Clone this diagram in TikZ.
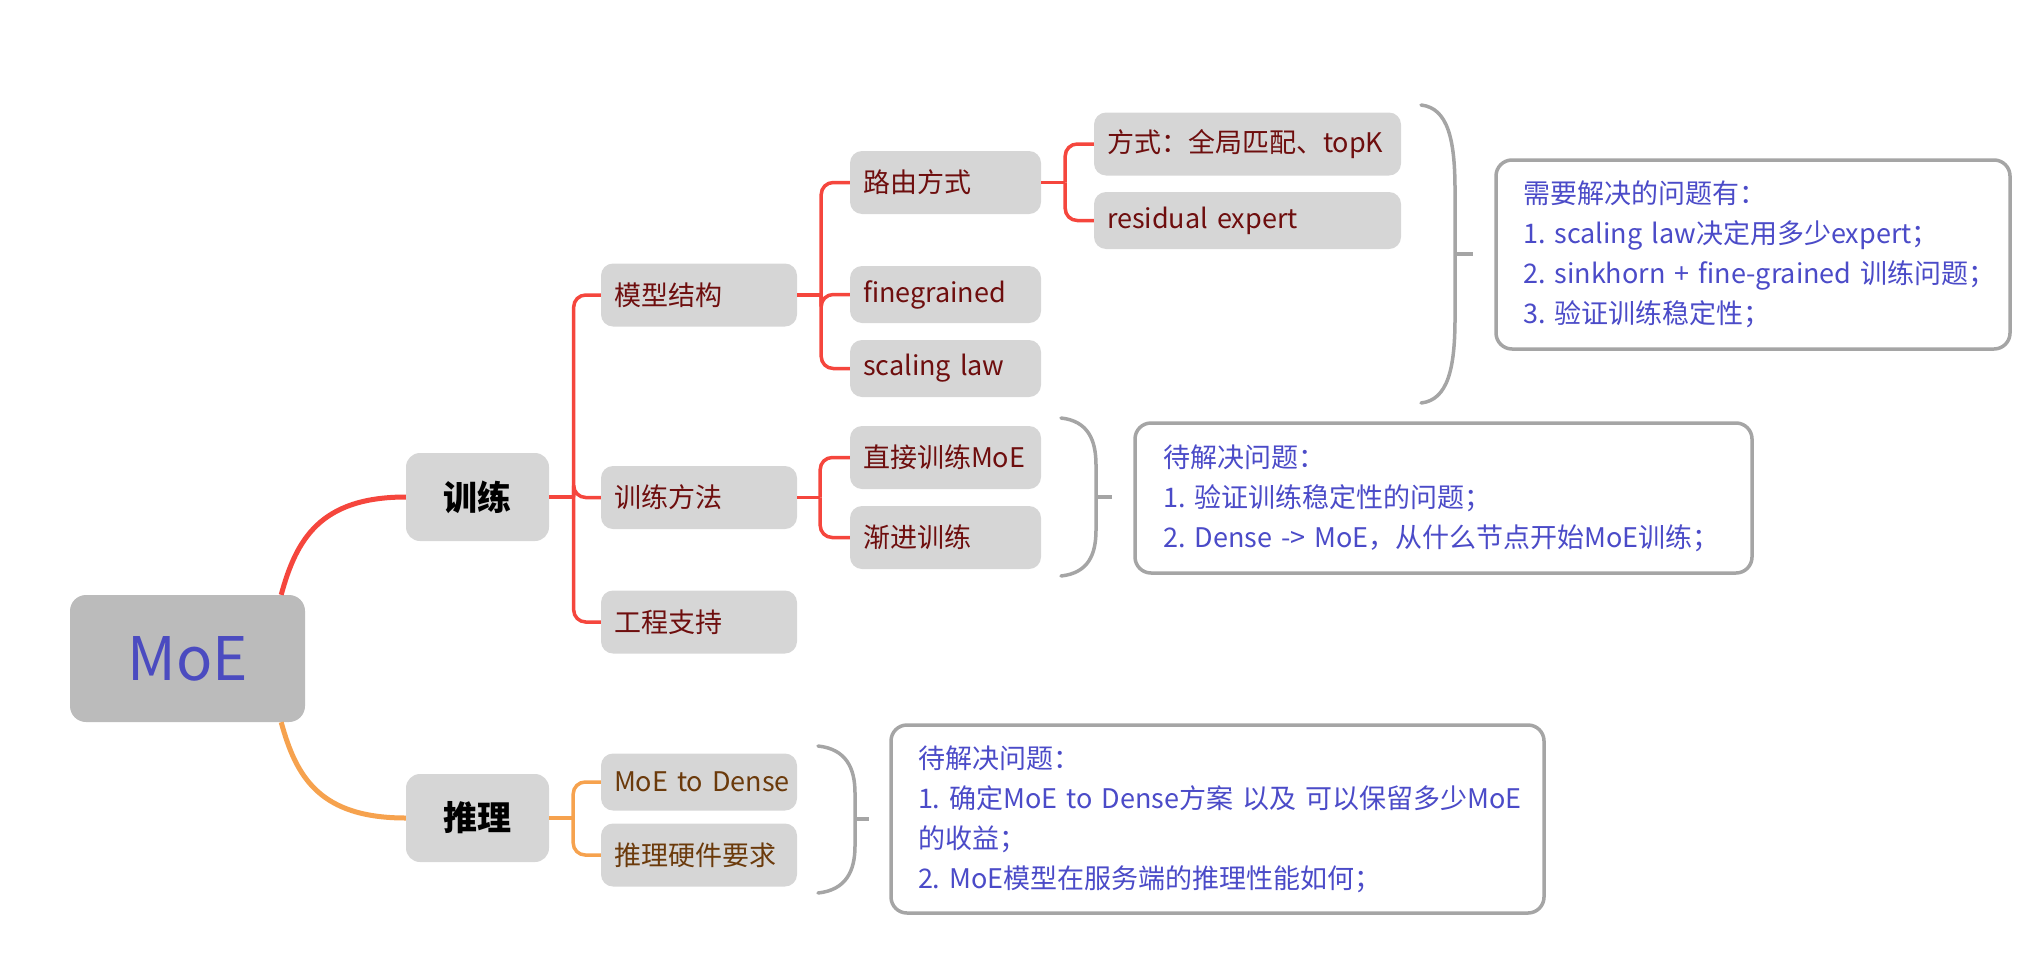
\documentclass[tikz,border=0pt]{standalone}
\usepackage{fontspec}
\setmainfont{Noto Sans CJK SC}
\frenchspacing
\usetikzlibrary{calc}
\definecolor{brred}{HTML}{F5463D}
\definecolor{brorange}{HTML}{F6A24E}
\definecolor{boxgray}{HTML}{D6D6D6}
\definecolor{rootgray}{HTML}{BBBBBB}
\definecolor{roottext}{HTML}{4B4BC0}
\definecolor{leafred}{HTML}{6E0E0E}
\definecolor{leafbrown}{HTML}{6B3A0B}
\definecolor{notetext}{HTML}{4B4BC8}
\definecolor{notegray}{HTML}{A5A5A5}
\newcommand{\tightsp}{\spaceskip=0.21em plus 0.05em minus 0.05em\relax}
\begin{document}
\begin{tikzpicture}[x=1pt,y=-1pt,
  leaf/.style={fill=boxgray, rounded corners=12pt, inner xsep=13pt, inner ysep=0pt, align=left, font=\fontsize{27}{32}\selectfont\tightsp},
  col1/.style={leaf, text width=170pt},
  col2/.style={leaf, text width=165pt},
  col3/.style={leaf, text width=281pt},
  tall/.style={minimum height=63pt},
  short/.style={minimum height=57pt},
  mainbox/.style={fill=boxgray, rounded corners=14pt, minimum width=143pt, minimum height=88pt, inner sep=0pt, font=\fontsize{34}{40}\selectfont\bfseries, text=black},
  rootbox/.style={fill=rootgray, rounded corners=16pt, minimum width=235pt, minimum height=127pt, inner sep=0pt, font=\fontsize{60}{62}\selectfont, text=roottext},
  note/.style={draw=notegray, line width=3.5pt, fill=white, rounded corners=16pt, inner ysep=0pt, align=left, text=notetext, font=\fontsize{27}{40}\selectfont\tightsp},
  redthick/.style={draw=brred, line width=5pt},
  orangethick/.style={draw=brorange, line width=5pt},
  redline/.style={draw=brred, line width=3.5pt, rounded corners=12pt},
  orangeline/.style={draw=brorange, line width=3.5pt, rounded corners=12pt},
  brk/.style={draw=notegray, line width=3.5pt, line cap=round}
]
\useasboundingbox (0,0) rectangle (2036,972);

% root and main nodes
\node[rootbox] (moe) at (187.5,658.5) {MoE};
\node[mainbox] (xl) at (477.5,497) {训练};
\node[mainbox] (tl) at (477.5,818) {推理};

% level 2 (training)
\node[col1, tall, text=leafred] (m1) at (699,295) {\mbox{模型结构}};
\node[col1, tall, text=leafred] (m2) at (699,497.5) {\mbox{训练方法}};
\node[col1, tall, text=leafred] (m3) at (699,622) {\mbox{工程支持}};

% level 3
\node[col2, tall, text=leafred] (r1) at (945.5,182.5) {\mbox{路由方式}};
\node[col2, short, text=leafred] (r2) at (945.5,294.5) {\mbox{finegrained}};
\node[col2, short, text=leafred] (r3) at (945.5,368.5) {\mbox{scaling law}};
\node[col2, tall, text=leafred] (t1) at (945.5,457.5) {\mbox{直接训练MoE}};
\node[col2, tall, text=leafred] (t2) at (945.5,537.5) {\mbox{渐进训练}};

% level 4
\node[col3, tall, text=leafred] (s1) at (1247.5,144) {\mbox{方式：全局匹配、topK}};
\node[col3, short, text=leafred] (s2) at (1247.5,220.5) {\mbox{residual expert}};

% inference
\node[col1, short, text=leafbrown] (i1) at (699,782) {\mbox{MoE to Dense}};
\node[col1, tall, text=leafbrown] (i2) at (699,855) {\mbox{推理硬件要求}};

% notes
\node[note, inner xsep=27pt, text width=460pt, minimum height=189pt] (n1) at (1753,254.5)
  {\mbox{需要解决的问题有：}\\\mbox{1. scaling law决定用多少expert；}\\\mbox{2. sinkhorn + fine-grained 训练问题；}\\\mbox{3. 验证训练稳定性；}};
\node[note, inner xsep=28pt, text width=561pt, minimum height=150pt] (n2) at (1443.5,498)
  {\mbox{待解决问题：}\\\mbox{1. 验证训练稳定性的问题；}\\\mbox{2. Dense -> MoE，从什么节点开始MoE训练；}};
\node[note, inner xsep=27pt, text width=599pt, minimum height=188pt] (n3) at (1217.5,819)
  {\mbox{待解决问题：}\\\mbox{1. 确定MoE to Dense方案 以及 可以保留多少MoE}\\\mbox{的收益；}\\\mbox{2. MoE模型在服务端的推理性能如何；}};

% root connectors
\coordinate (mt) at ($(moe.north east)+(-24,0)$);
\coordinate (mb) at ($(moe.south east)+(-24,0)$);
\draw[redthick] (mt) .. controls +(15,-55) and +(-86,0) .. (xl.west);
\draw[orangethick] (mb) .. controls +(15,55) and +(-86,0) .. (tl.west);

% training branches
\coordinate (vx) at ($(xl.east)+(24.5,0)$);
\draw[redline] (xl.east) -- (vx);
\foreach \c in {m1,m2,m3} \draw[redline] (vx) |- (\c.west);

\coordinate (vm) at ($(m1.east)+(24,0)$);
\draw[redline] (m1.east) -- (vm);
\foreach \c in {r1,r2,r3} \draw[redline] (vm) |- (\c.west);

\coordinate (vr) at ($(r1.east)+(24,0)$);
\draw[redline] (r1.east) -- (vr);
\foreach \c in {s1,s2} \draw[redline] (vr) |- (\c.west);

\coordinate (vt) at ($(m2.east)+(23,0)$);
\draw[redline] (m2.east) -- (vt);
\foreach \c in {t1,t2} \draw[redline] (vt) |- (\c.west);

% inference branches
\coordinate (vi) at ($(tl.east)+(24,0)$);
\draw[orangeline] (tl.east) -- (vi);
\foreach \c in {i1,i2} \draw[orangeline] (vi) |- (\c.west);

% brackets
\draw[brk] (1421,105) .. controls (1448,108) and (1455,140) .. (1455,190) -- (1455,318) .. controls (1455,368) and (1448,400) .. (1421,403);
\draw[brk, line cap=butt] (1455,254) -- (1473,254);
\draw[brk] (1061,418) .. controls (1088,421) and (1096,440) .. (1096,465) -- (1096,530) .. controls (1096,555) and (1088,573) .. (1061,576);
\draw[brk, line cap=butt] (1096,497) -- (1112,497);
\draw[brk] (818,746) .. controls (846,749) and (855,768) .. (855,793) -- (855,846) .. controls (855,871) and (846,890) .. (818,893);
\draw[brk, line cap=butt] (855,819) -- (869,819);
\end{tikzpicture}
\end{document}
